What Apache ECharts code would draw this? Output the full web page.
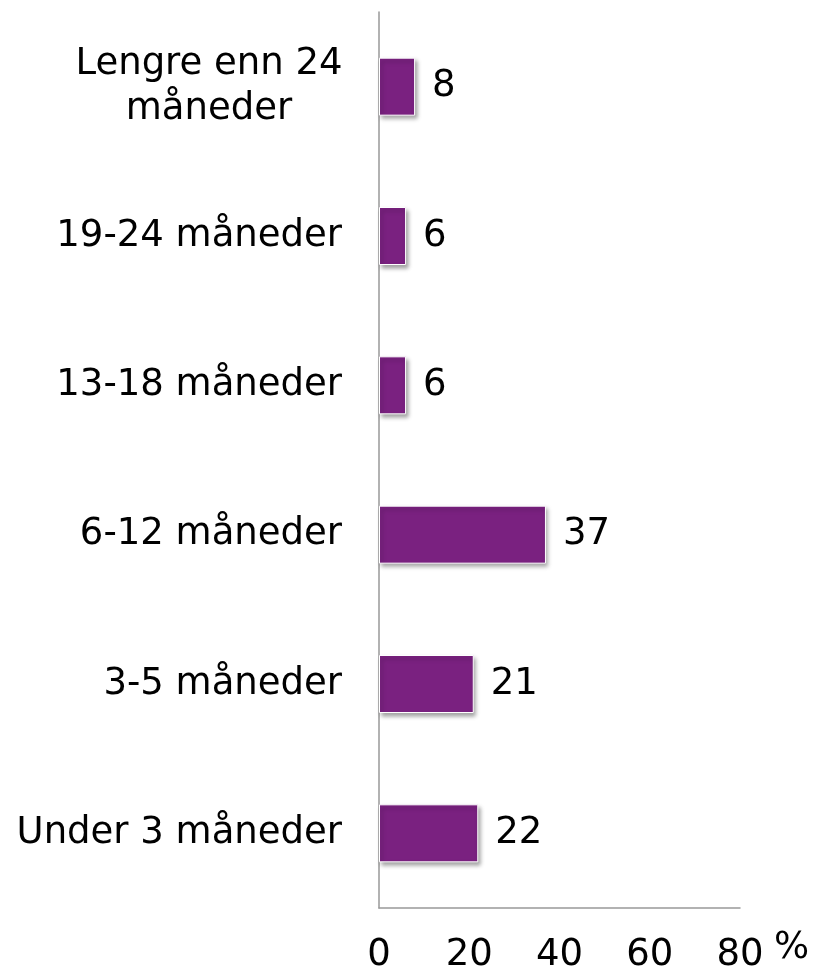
<!DOCTYPE html>
<html>
<head>
<meta charset="utf-8">
<script src="https://cdn.jsdelivr.net/npm/echarts@6/dist/echarts.min.js"></script>
<style>
    html, body { margin: 0; padding: 0; background: #fff; }
    #chart { width: 820px; height: 975px; }
</style>
</head>
<body>
<div id="chart"></div>
<script>
// categories bottom -> top (category axis draws first item at bottom)
let categories = ['Under 3 måneder', '3-5 måneder', '6-12 måneder', '13-18 måneder', '19-24 måneder', 'Lengre enn 24 måneder'];
let percentValues = [22, 21, 37, 6, 6, 8];
let xTicks = [0, 20, 40, 60, 80];

let fontFamily = '"DejaVu Sans", Verdana, sans-serif';

function formatCategory(value) {
    if (value === 'Lengre enn 24 måneder') {
        return '{c|Lengre enn 24}\n{c|måneder}';
    }
    return value;
}

let options = {
    animation: false,
    backgroundColor: '#fff',
    grid: {
        left: 379,
        right: 80,
        top: 12,
        bottom: 67
    },
    xAxis: {
        type: 'value',
        min: xTicks[0],
        max: xTicks[xTicks.length - 1],
        interval: 20,
        name: '%',
        nameLocation: 'end',
        nameGap: 34,
        nameTextStyle: {
            color: '#000',
            fontSize: 37,
            fontFamily: fontFamily,
            verticalAlign: 'top',
            padding: [22, 0, 0, 0]
        },
        axisLine: { show: true, lineStyle: { color: '#999', width: 1.5 } },
        axisTick: { show: false },
        splitLine: { show: false },
        axisLabel: {
            color: '#000',
            fontSize: 37,
            fontFamily: fontFamily,
            margin: 29
        }
    },
    yAxis: {
        type: 'category',
        data: categories,
        axisLine: { show: true, lineStyle: { color: '#999', width: 1.5 } },
        axisTick: { show: false },
        axisLabel: {
            color: '#000',
            fontSize: 37,
            fontFamily: fontFamily,
            margin: 37,
            formatter: formatCategory,
            rich: {
                c: {
                    width: 266,
                    align: 'center',
                    fontSize: 37,
                    lineHeight: 45,
                    fontFamily: fontFamily,
                    color: '#000'
                }
            }
        }
    },
    series: [
        {
            type: 'bar',
            data: percentValues,
            barWidth: 58,
            itemStyle: {
                color: '#7a2180',
                borderColor: '#fff',
                borderWidth: 1,
                shadowColor: 'rgba(0,0,0,0.35)',
                shadowBlur: 4,
                shadowOffsetX: 2,
                shadowOffsetY: 3
            },
            label: {
                show: true,
                position: 'right',
                distance: 17,
                color: '#000',
                fontSize: 37,
                fontFamily: fontFamily
            }
        }
    ]
};

let chart = echarts.init(document.getElementById('chart'));
chart.setOption(options);
</script>
</body>
</html>
